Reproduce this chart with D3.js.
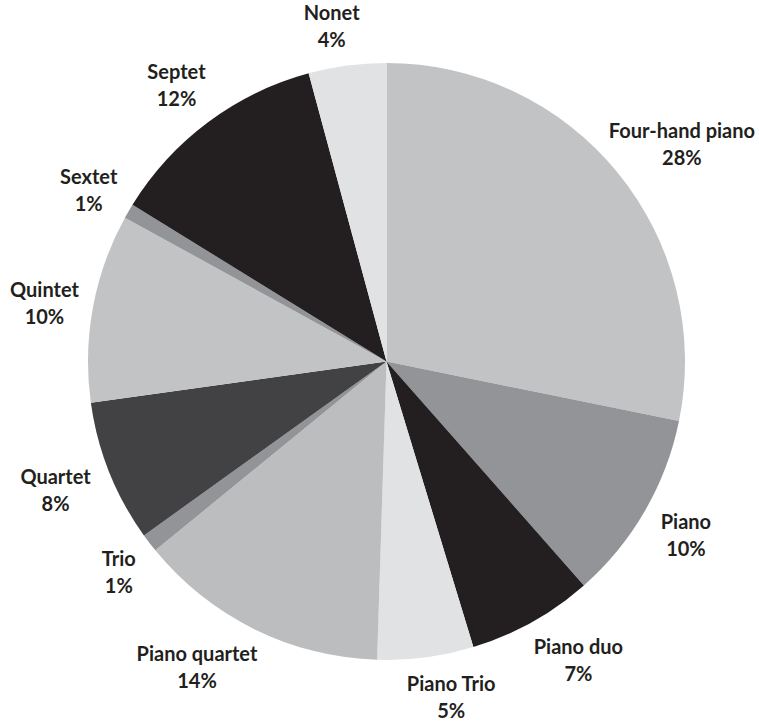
<!DOCTYPE html>
<html>
<head>
<meta charset="utf-8">
<script src="https://cdn.jsdelivr.net/npm/d3@7"></script>
<style>
  html, body { margin: 0; padding: 0; background: #ffffff; }
  svg { display: block; }
  text { font-family: Lato, "Open Sans", sans-serif; font-weight: 700; fill: #231f20; }
</style>
</head>
<body>
<svg id="chart" width="759" height="723"></svg>
<script>
// Share of works by ensemble type (percent)
const categories = ["Four-hand piano", "Piano", "Piano duo", "Piano Trio", "Piano quartet",
                    "Trio", "Quartet", "Quintet", "Sextet", "Septet", "Nonet"];
const shares = [28.2, 10.3, 6.8, 5.2, 13.6, 1.0, 7.7, 10.2, 0.8, 12.0, 4.2];
const fills = ["#c2c3c5", "#939497", "#231f20", "#e1e2e3", "#bcbdbf",
               "#939497", "#424143", "#c2c3c5", "#939497", "#231f20", "#e1e2e3"];

const width = 759, height = 723;
const cx = 386.5, cy = 361.5, radius = 298.5;
const fontSize = 20;
const lineGap = 27;                 // baseline-to-baseline distance of the two label lines
const capHeight = fontSize * 0.72;
const anchorRadius = radius + 14;   // labels hang off a point just outside the rim
const edgeMargin = 4;

const data = categories.map((name, i) => ({ name, value: shares[i], fill: fills[i] }));

const pie = d3.pie().value(d => d.value).sort(null);
const arc = d3.arc().innerRadius(0).outerRadius(radius);

const svg = d3.select("#chart");
const g = svg.append("g").attr("transform", `translate(${cx},${cy})`);

const arcs = pie(data);

g.selectAll("path.slice")
  .data(arcs)
  .join("path")
  .attr("class", "slice")
  .attr("d", arc)
  .attr("fill", d => d.data.fill);

const labels = g.selectAll("text.label")
  .data(arcs)
  .join("text")
  .attr("class", "label")
  .attr("text-anchor", "middle")
  .attr("font-size", fontSize);

// Two lines, vertically centred on the label origin (cap top of line 1 to baseline of line 2)
labels.append("tspan")
  .attr("x", 0)
  .attr("y", -lineGap / 2 + capHeight / 2)
  .text(d => d.data.name);

labels.append("tspan")
  .attr("x", 0)
  .attr("y", lineGap / 2 + capHeight / 2)
  .text(d => Math.round(d.data.value) + "%");

// Place each label box outside the rim, shifted away from the slice's
// mid-angle point by a fraction of its half-width / half-height,
// then keep it inside the drawing area.
labels.attr("transform", function (d) {
  const bb = this.getBBox();
  const a = (d.startAngle + d.endAngle) / 2;
  const s = Math.sin(a), c = Math.cos(a);
  const ax = s * anchorRadius, ay = -c * anchorRadius;
  const upper = c >= 0;
  const fx = upper
    ? Math.min(1, 0.4 + 0.65 * Math.abs(s))
    : Math.min(1.15, 0.4 + 1.0 * Math.abs(s));
  const fy = upper
    ? Math.min(1, Math.max(0, 1.5 * Math.abs(c) - 0.2))
    : Math.min(1, 1.35 * Math.abs(c));
  const halfH = (lineGap + capHeight) / 2 + 5;
  let x = ax + Math.sign(s) * fx * bb.width / 2;
  const y = ay - Math.sign(c) * fy * halfH;
  const minX = -cx + edgeMargin + bb.width / 2;
  const maxX = width - cx - edgeMargin - bb.width / 2;
  x = Math.max(minX, Math.min(maxX, x));
  return `translate(${x},${y})`;
});
</script>
</body>
</html>
